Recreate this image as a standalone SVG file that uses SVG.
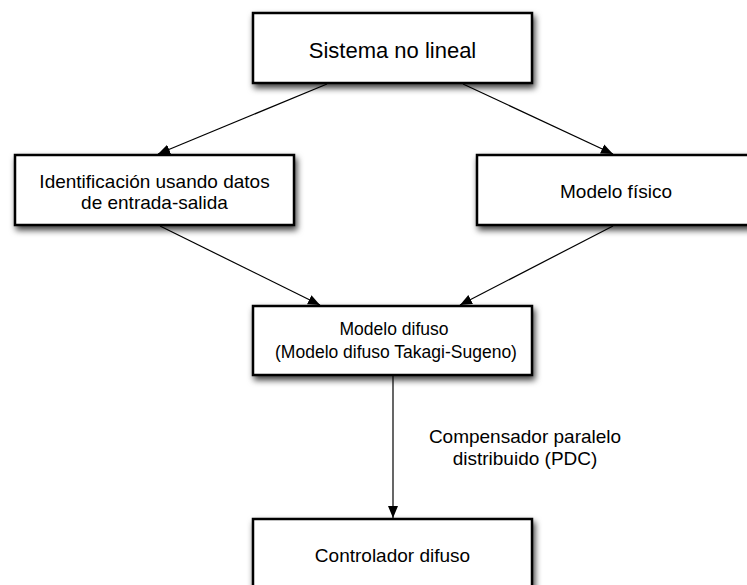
<svg xmlns="http://www.w3.org/2000/svg" width="747" height="585" viewBox="0 0 747 585">
<style>
.box{fill:#fff;stroke:#000;stroke-width:2.5;filter:url(#sh)}
.t{font-family:"Liberation Sans",Arial,sans-serif;font-size:19px;fill:#000;text-anchor:middle}
.c{stroke:#000;stroke-width:1.2;fill:none;marker-end:url(#ah)}
</style>
<defs>
<filter id="sh" x="-10%" y="-20%" width="130%" height="160%">
<feDropShadow dx="2" dy="4" stdDeviation="3" flood-color="#000" flood-opacity="0.75"/>
</filter>
<marker id="ah" viewBox="0 0 12 12" refX="12" refY="6" markerWidth="12" markerHeight="12" markerUnits="userSpaceOnUse" orient="auto">
<path d="M0,1 L12,6 L0,11 Z" fill="#000"/>
</marker>
</defs>
<g id="connectors">
<line class="c" x1="327" y1="84" x2="158" y2="154"/>
<line class="c" x1="463" y1="84" x2="613" y2="154"/>
<line class="c" x1="160" y1="226" x2="320" y2="305"/>
<line class="c" x1="613" y1="226" x2="460" y2="305"/>
<line class="c" x1="393" y1="376" x2="393" y2="518"/>
<text class="t" x="525" y="443">Compensador paralelo</text>
<text class="t" x="525" y="465">distribuido (PDC)</text>
</g>
<g id="n1">
<rect class="box" x="253" y="13" width="279" height="70"/>
<text class="t" x="392.5" y="58" style="font-size:22px">Sistema no lineal</text>
</g>
<g id="n2">
<rect class="box" x="15" y="155" width="279" height="70"/>
<text class="t" x="154.5" y="188">Identificación usando datos</text>
<text class="t" x="154.5" y="209">de entrada-salida</text>
</g>
<g id="n3">
<rect class="box" x="477" y="155" width="279" height="70"/>
<text class="t" x="616" y="198">Modelo físico</text>
</g>
<g id="n4">
<rect class="box" x="253" y="306" width="279" height="69"/>
<text class="t" x="394" y="335" style="font-size:17.5px">Modelo difuso</text>
<text class="t" x="396" y="358" style="font-size:17.5px">(Modelo difuso Takagi-Sugeno)</text>
</g>
<g id="n5">
<rect class="box" x="253" y="519" width="279" height="80"/>
<text class="t" x="392.5" y="562">Controlador difuso</text>
</g>
</svg>
